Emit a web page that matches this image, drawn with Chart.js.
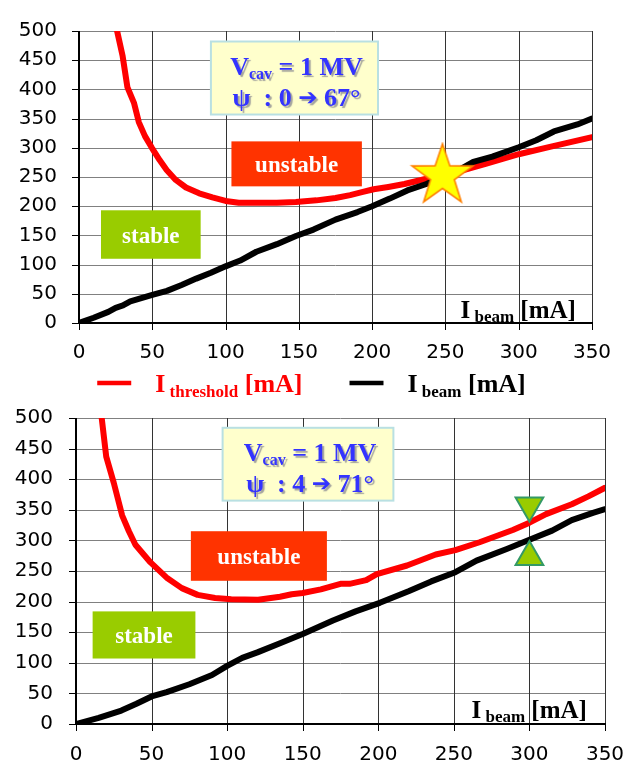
<!DOCTYPE html>
<html>
<head>
<meta charset="utf-8">
<script src="https://cdn.jsdelivr.net/npm/chart.js@4.4.0/dist/chart.umd.min.js"></script>
<style>
  html, body { margin: 0; padding: 0; background: #fff; }
  #wrap { position: relative; width: 623px; height: 765px; overflow: hidden; }
  #top { position: absolute; left: 0; top: 0; }
  #bot { position: absolute; left: 0; top: 400px; }
</style>
</head>
<body>
<div id="wrap">
  <canvas id="top" width="623" height="400"></canvas>
  <canvas id="bot" width="623" height="365"></canvas>
</div>
<script>
'use strict';

// ---- data ----
const X_MIN = 0, X_MAX = 350, X_STEP = 50;
const Y_MIN = 0, Y_MAX = 500, Y_STEP = 50;

// top panel: psi 0 -> 67 deg
const topThrI   = [26, 29.7, 33, 37.5, 40.8, 45, 49.7, 55, 59.8, 66, 73, 82, 91, 100, 109, 121, 135, 148, 162, 175, 185, 193, 201, 211, 222, 237, 248, 260, 278, 300, 322, 350];
const topThrVal = [500, 458, 404, 377, 344, 320, 300, 279, 262, 245, 232, 222, 215, 209, 206, 206, 206, 207, 210, 214, 219, 224, 229, 233, 238, 247, 252, 260, 273, 289, 302, 318];
const topBeamI   = [0, 10, 20, 25, 30, 35, 50, 60, 70, 80, 90, 100, 110, 121, 135, 148, 160, 175, 190, 200, 212, 224, 237, 250, 260, 269, 282, 300, 312, 324, 340, 350];
const topBeamVal = [0, 9, 19, 26, 30, 37, 48, 55, 65, 76, 86, 97, 107, 122, 135, 149, 160, 177, 190, 200, 213, 227, 238, 252, 263, 276, 285, 301, 313, 328, 340, 350];
const topStar = [248, 252];

// bottom panel: psi 4 -> 71 deg
const botThrI   = [17, 20, 25, 30.5, 35, 39.3, 49.3, 60.5, 70, 80.5, 92, 102.7, 120.5, 135, 142.7, 150, 162, 175, 181, 192, 199, 219, 238, 251, 267, 289, 300, 311, 328, 339, 350];
const botThrVal = [500, 437, 394, 341, 315, 293, 264, 238, 222, 211, 206, 204, 203, 208, 212, 214, 220, 229, 229, 235, 245, 259, 277, 284, 297, 317, 329, 343, 359, 372, 386];
const botBeamI   = [0, 15, 30, 40, 50, 60, 75, 90, 100, 110, 120, 135, 150, 170, 185, 201, 220, 235, 251, 265, 285, 300, 315, 328, 342, 350];
const botBeamVal = [0, 10, 22, 33, 45, 52, 65, 80, 95, 108, 117, 132, 147, 169, 184, 198, 217, 233, 248, 267, 286, 301, 316, 333, 345, 351];
const botMarkI = 300;
const botMarkDown = 357;
const botMarkUp = 273;

const RED = '#ff0000', BLACK = '#000000';
const SERIF = '"Liberation Serif", "Times New Roman", serif';
const SANS = '"DejaVu Sans", sans-serif';
const NONE = 'rgba(0,0,0,0)';

const pts = (xs, ys) => xs.map((x, i) => ({ x, y: ys[i] }));

function starImage(R, r) {
  const c = document.createElement('canvas');
  const s = Math.ceil(R * 2 + 4);
  c.width = c.height = s;
  const g = c.getContext('2d');
  g.beginPath();
  for (let i = 0; i < 10; i++) {
    const rad = i % 2 ? r : R;
    const a = -Math.PI / 2 + i * Math.PI / 5;
    g.lineTo(s / 2 + rad * Math.cos(a), s / 2 + rad * Math.sin(a));
  }
  g.closePath();
  g.fillStyle = '#ffff00';
  g.fill();
  g.lineWidth = 1.6;
  g.strokeStyle = '#ff8000';
  g.stroke();
  return c;
}

// rich text: parts = [{t, s, dy, f}]
const partFont = p => 'bold ' + p.s + 'px ' + (p.f || SERIF);
function richWidth(ctx, parts) {
  let w = 0;
  parts.forEach(p => { ctx.font = partFont(p); w += ctx.measureText(p.t).width; });
  return w;
}
function drawRich(ctx, parts, x, y, align) {
  const w = richWidth(ctx, parts);
  let cx = align === 'right' ? x - w : align === 'center' ? x - w / 2 : x;
  ctx.textAlign = 'left';
  ctx.textBaseline = 'alphabetic';
  parts.forEach(p => {
    ctx.font = partFont(p);
    ctx.fillText(p.t, cx, y + (p.dy || 0));
    cx += ctx.measureText(p.t).width;
  });
}

// grid, tick marks and axis lines from the scales' own ticks
const framePlugin = {
  id: 'frame',
  beforeDatasetsDraw(chart) {
    const { ctx, chartArea: a, scales: { x, y } } = chart;
    const line = (x1, y1, x2, y2, color, w) => {
      ctx.strokeStyle = color;
      ctx.lineWidth = w;
      ctx.beginPath();
      ctx.moveTo(x1, y1);
      ctx.lineTo(x2, y2);
      ctx.stroke();
    };
    ctx.save();
    y.ticks.forEach(t => {
      const py = Math.round(y.getPixelForValue(t.value)) + 0.5;
      line(a.left, py, a.right, py, '#808080', 1);
      line(a.left - 7, py, a.left, py, '#000', 1);
    });
    x.ticks.forEach(t => {
      const px = Math.round(x.getPixelForValue(t.value)) + 0.5;
      line(px, a.top, px, a.bottom, '#333333', 1);
      line(px, a.bottom, px, a.bottom + 7, '#000', 1);
    });
    line(a.left, a.top, a.left, a.bottom + 1, '#000', 2);
    line(a.left - 1, a.bottom, a.right + 1, a.bottom, '#000', 2);
    ctx.restore();
  }
};

// boxes and labels placed in data coordinates
const notesPlugin = {
  id: 'notes',
  beforeDatasetsDraw(chart, args, opts) {
    const { ctx, scales: { x, y } } = chart;
    ctx.save();
    (opts.items || []).forEach(n => {
      if (n.kind === 'box') {
        const l = x.getPixelForValue(n.x0), r = x.getPixelForValue(n.x1);
        const t = y.getPixelForValue(n.y0), b = y.getPixelForValue(n.y1);
        ctx.fillStyle = n.fill;
        ctx.fillRect(l, t, r - l, b - t);
        if (n.stroke) {
          ctx.lineWidth = 2;
          ctx.strokeStyle = n.stroke;
          ctx.strokeRect(l, t, r - l, b - t);
        }
        ctx.fillStyle = n.color;
        if (n.shadow) {
          ctx.shadowColor = 'rgba(90,90,120,0.55)';
          ctx.shadowOffsetX = 2;
          ctx.shadowOffsetY = 2;
          ctx.shadowBlur = 1;
        }
        const base = n.base || [(b - t) / 2 + 8];
        n.lines.forEach((ln, i) => drawRich(ctx, ln, (l + r) / 2 + (n.dx || 0), t + base[i], 'center'));
        ctx.shadowColor = 'transparent';
      } else if (n.kind === 'label') {
        ctx.fillStyle = n.color;
        drawRich(ctx, n.parts, x.getPixelForValue(n.x), y.getPixelForValue(n.y), 'right');
      }
    });
    ctx.restore();
  }
};

const legendPlugin = {
  id: 'richLegend',
  afterDraw(chart, args, opts) {
    if (!opts.items) return;
    const ctx = chart.ctx;
    ctx.save();
    const lineLen = 34, gapText = 24, gapItem = 47;
    const widths = opts.items.map(it => lineLen + gapText + richWidth(ctx, it.parts));
    const total = widths.reduce((a, b) => a + b, 0) + gapItem * (widths.length - 1);
    let cx = chart.width / 2 - total / 2;
    opts.items.forEach((it, i) => {
      ctx.strokeStyle = it.color;
      ctx.lineWidth = 4.5;
      ctx.beginPath();
      ctx.moveTo(cx, opts.y);
      ctx.lineTo(cx + lineLen, opts.y);
      ctx.stroke();
      ctx.fillStyle = it.color;
      drawRich(ctx, it.parts, cx + lineLen + gapText, opts.y + 9, 'left');
      cx += widths[i] + gapItem;
    });
    ctx.restore();
  }
};

function axisTitle(xv, yv) {
  return { kind: 'label', x: xv, y: yv, color: '#000',
    parts: [{ t: 'I', s: 25 }, { t: ' beam', s: 17, dy: 4 }, { t: ' [mA]', s: 25 }] };
}
function infoBox(x0, x1, y0, y1, from, to) {
  return { kind: 'box', x0, x1, y0, y1, fill: '#ffffcc', stroke: '#b9e0e2', color: '#3333ff', shadow: true,
    base: [33, 64], dx: 2,
    lines: [
      [{ t: 'V', s: 26 }, { t: 'cav', s: 16, dy: 4 }, { t: ' = 1 MV', s: 26 }],
      [{ t: 'ψ  : ' + from + ' ', s: 26 }, { t: '➔', s: 23, f: SANS, dy: -1 }, { t: ' ' + to + '°', s: 26 }]
    ] };
}
function tagBox(x0, x1, y0, y1, fill, text) {
  return { kind: 'box', x0, x1, y0, y1, fill, color: '#ffffff', lines: [[{ t: text, s: 23 }]] };
}

function makeChart(id, datasets, notes, pad, xH, yW, xPad, yPad, legend) {
  return new Chart(document.getElementById(id), {
    type: 'line',
    data: { datasets },
    options: {
      responsive: false,
      animation: false,
      layout: { padding: pad },
      plugins: {
        legend: { display: false },
        tooltip: { enabled: false },
        notes: { items: notes },
        richLegend: legend || {}
      },
      scales: {
        x: {
          type: 'linear', min: X_MIN, max: X_MAX,
          ticks: { stepSize: X_STEP, color: '#000', font: { family: SANS, size: 20 }, padding: xPad, maxRotation: 0, autoSkip: false },
          grid: { color: NONE, tickLength: 7, tickColor: NONE },
          border: { color: NONE, width: 2 },
          afterFit: s => { s.height = xH; s.paddingLeft = 0; s.paddingRight = 0; }
        },
        y: {
          type: 'linear', min: Y_MIN, max: Y_MAX,
          ticks: { stepSize: Y_STEP, color: '#000', font: { family: SANS, size: 20 }, padding: yPad },
          grid: { color: NONE, tickLength: 7, tickColor: NONE },
          border: { color: NONE, width: 2 },
          afterFit: s => { s.width = yW; s.paddingTop = 0; s.paddingBottom = 0; }
        }
      }
    },
    plugins: [framePlugin, notesPlugin, legendPlugin]
  });
}

const lineDs = (label, data, color) => ({
  label, data, borderColor: color, backgroundColor: color, borderWidth: 6,
  pointRadius: 0, tension: 0, fill: false, borderCapStyle: 'round', borderJoinStyle: 'round'
});

makeChart('top', [
  { label: 'star', data: [{ x: topStar[0], y: topStar[1] }], showLine: false,
    pointStyle: starImage(32, 12.5), pointRadius: 30 },
  lineDs('I beam [mA]', pts(topBeamI, topBeamVal), BLACK),
  lineDs('I threshold [mA]', pts(topThrI, topThrVal), RED)
], [
  infoBox(90, 204, 482, 357, '0', '67'),
  tagBox(104, 193, 311, 234, '#ff3300', 'unstable'),
  tagBox(15, 83, 193, 110, '#99cc00', 'stable'),
  axisTitle(339, 8)
], { left: 0, top: 18, right: 21, bottom: 35 }, 42, 79, 11, 15, {
  y: 383,
  items: [
    { color: RED, parts: [{ t: 'I', s: 26 }, { t: ' threshold', s: 17, dy: 5 }, { t: ' [mA]', s: 26 }] },
    { color: BLACK, parts: [{ t: 'I', s: 26 }, { t: ' beam', s: 17, dy: 5 }, { t: ' [mA]', s: 26 }] }
  ]
});

makeChart('bot', [
  { label: 'down', data: [{ x: botMarkI, y: botMarkDown }], showLine: false, pointStyle: 'triangle',
    rotation: 180, pointRadius: 16, backgroundColor: '#99cc00', borderColor: '#339966', borderWidth: 2 },
  { label: 'up', data: [{ x: botMarkI, y: botMarkUp }], showLine: false, pointStyle: 'triangle',
    pointRadius: 16, backgroundColor: '#99cc00', borderColor: '#339966', borderWidth: 2 },
  lineDs('I beam [mA]', pts(botBeamI, botBeamVal), BLACK),
  lineDs('I threshold [mA]', pts(botThrI, botThrVal), RED)
], [
  infoBox(97, 210, 484, 365, '4', '71'),
  tagBox(76, 166, 315, 234, '#ff3300', 'unstable'),
  tagBox(11, 79, 184, 107, '#99cc00', 'stable'),
  axisTitle(338, 9)
], { left: 0, top: 10, right: 17, bottom: 0 }, 41, 76, 12, 16, null);
</script>
</body>
</html>
